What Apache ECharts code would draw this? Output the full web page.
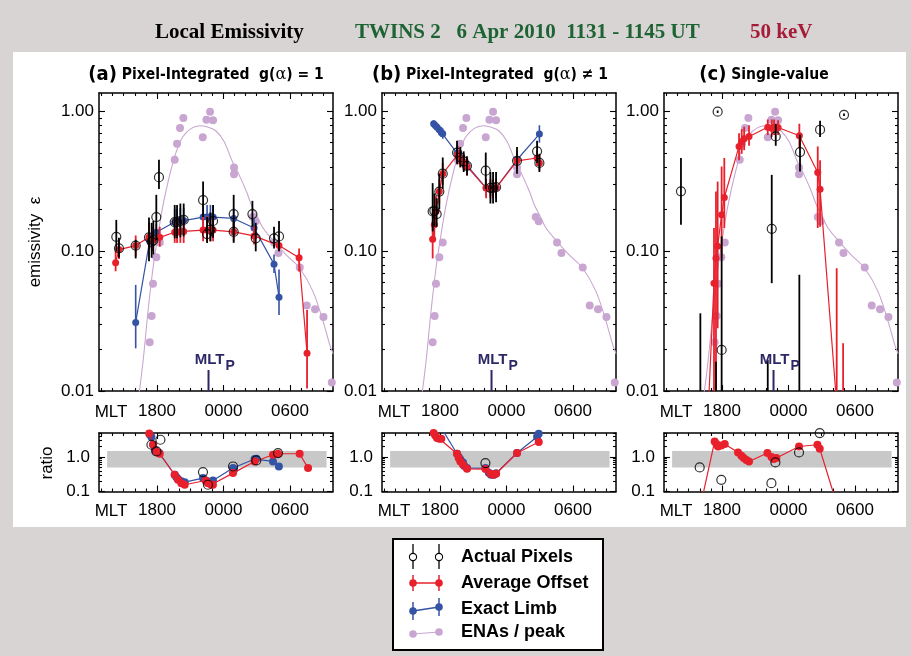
<!DOCTYPE html>
<html><head><meta charset="utf-8">
<script src="https://cdn.jsdelivr.net/npm/echarts@6/dist/echarts.min.js"></script>
<style>
html,body{margin:0;padding:0;background:#d8d4d3;}
#wrap{position:relative;width:911px;height:656px;overflow:hidden;}
#white{position:absolute;left:13px;top:52px;width:893px;height:475px;background:#fff;}
#chart{position:absolute;left:0;top:0;width:911px;height:656px;}
</style></head><body>
<div id="wrap"><div id="white"></div><div id="chart"></div></div>
<script>
// ---------------- tick labels ----------------
const mltMajor = [18, 24, 30];
const mltMajorLabels = ['1800', '0000', '0600'];
const mltMinor = [13,14,15,16,17,19,20,21,22,23,25,26,27,28,29,31,32,33];
const emisMajor = [0.01, 0.1, 1];
const emisMajorLabels = ['0.01', '0.10', '1.00'];
const emisMinor = [0.02,0.03,0.04,0.05,0.06,0.07,0.08,0.09,0.2,0.3,0.4,0.5,0.6,0.7,0.8,0.9];
const ratioMajor = [0.1, 1];
const ratioMajorLabels = ['0.1', '1.0'];
const ratioMinor = [0.2,0.3,0.4,0.5,0.6,0.7,0.8,0.9,2,3,4,5];
const ratioBand = [[13.5, 0.5, 33.3, 1.5]];   // [mltFrom, low, mltTo, high]
const mltP = [22.65];

// ---------------- ENAs / peak (same in every panel) ----------------
const enaDots = [[17.34,0.0223],[17.52,0.0345],[17.64,0.0585],[17.94,0.0908],[18.25,0.1156],[19.60,0.453],[19.81,0.590],
  [20.08,0.764],[20.38,0.902],[22.13,0.655],[22.46,0.877],[22.79,1.00],[23.06,0.867],[24.95,0.399],[24.95,0.357],
  [26.64,0.176],[26.91,0.164],[28.56,0.1156],[28.96,0.0975],[30.88,0.0765],[31.51,0.0409],[32.26,0.0385],[33.02,0.0339],[33.77,0.0115]];
const enaFit = [[16.30,0.0085],[16.74,0.0162],[17.19,0.0371],[17.64,0.0757],[18.09,0.131],[18.55,0.215],[19.15,0.353],[19.75,0.52],
  [20.35,0.665],[21.10,0.76],[21.86,0.794],[22.55,0.776],[23.30,0.731],[24.05,0.612],[24.80,0.44],[25.41,0.353],[26.07,0.268],
  [26.52,0.215],[26.97,0.183],[27.57,0.147],[28.47,0.120],[29.68,0.094],[30.88,0.0757],[32.08,0.0515],[32.99,0.0314],[33.59,0.0214],[33.89,0.0185]];

// ---------------- panel (a): [MLT, value, low, high] ----------------
const aPixels = [[14.33,0.127,0.100,0.168],[14.57,0.105,0.090,0.125],[16.08,0.110,0.089,0.121],[17.28,0.126,0.085,0.175],
  [17.52,0.117,0.090,0.160],[17.67,0.120,0.095,0.165],[17.94,0.176,0.120,0.254],[18.18,0.340,0.280,0.453],[19.60,0.162,0.124,0.215],
  [19.81,0.162,0.124,0.215],[20.11,0.165,0.126,0.220],[20.41,0.168,0.128,0.220],[22.16,0.233,0.176,0.316],[22.52,0.133,0.115,0.176],
  [22.82,0.143,0.118,0.190],[23.06,0.165,0.125,0.215],[24.92,0.185,0.131,0.254],[24.92,0.138,0.115,0.165],[26.61,0.185,0.150,0.230],
  [26.91,0.124,0.100,0.160],[28.56,0.124,0.105,0.150],[29.01,0.128,0.100,0.165]];
const aOffset = [[14.27,0.083,0.072,0.100],[14.57,0.103,0.088,0.120],[16.08,0.110,0.092,0.130],[17.28,0.126,0.105,0.160],
  [17.64,0.120,0.100,0.150],[18.25,0.126,0.108,0.150],[19.60,0.137,0.115,0.170],[19.81,0.137,0.115,0.170],[20.11,0.139,0.115,0.172],
  [20.41,0.139,0.115,0.172],[22.16,0.142,0.118,0.178],[22.52,0.142,0.118,0.178],[22.82,0.142,0.118,0.178],[23.06,0.142,0.118,0.175],
  [24.92,0.138,0.118,0.165],[26.76,0.129,0.112,0.152],[29.01,0.110,0.100,0.121],[30.82,0.090,0.0717,0.105],[31.54,0.0186,0.0104,0.038]];
const aLimb = [[16.08,0.031,0.0202,0.0575],[17.34,0.119,0.105,0.135],[17.94,0.137,0.120,0.158],[19.60,0.162,0.135,0.200],
  [19.81,0.162,0.135,0.200],[20.11,0.165,0.137,0.205],[20.41,0.166,0.138,0.205],[22.16,0.176,0.145,0.215],[22.52,0.176,0.145,0.215],
  [22.82,0.177,0.145,0.215],[23.06,0.176,0.145,0.215],[24.92,0.172,0.145,0.205],[26.76,0.147,0.128,0.170],[28.56,0.081,0.070,0.095],
  [29.01,0.047,0.035,0.074]];
// ratio (a): [MLT, ratio]
const aRatioPixels = [[17.50,2.28],[18.31,3.18],[17.95,1.46],[22.15,0.366],[22.60,0.157],[24.86,0.533],[26.96,0.80],[28.92,1.31]];
const aRatioOffset = [[17.30,4.8],[17.65,2.28],[17.95,1.46],[18.25,1.25],[19.60,0.306],[19.90,0.219],[20.20,0.175],[20.50,0.157],
  [22.39,0.209],[22.60,0.175],[22.90,0.157],[23.05,0.157],[24.86,0.342],[26.81,0.745],[28.47,1.17],[28.92,1.25],[30.87,1.25],[31.63,0.478]];
const aRatioLimb = [[16.08,8],[17.35,4.5],[17.50,3.8],[17.65,2.3],[17.80,1.63],[17.95,1.40],[18.20,1.31],[19.60,0.306],[19.75,0.26],
  [19.90,0.23],[20.20,0.20],[20.50,0.187],[22.15,0.245],[22.39,0.209],[22.60,0.195],[23.05,0.209],[24.86,0.48],[24.95,0.43],
  [26.81,0.875],[26.96,0.89],[28.47,0.745],[29.00,0.533]];

// ---------------- panel (b) ----------------
const bPixels = [[17.34,0.193,0.139,0.308],[17.49,0.195,0.150,0.260],[17.70,0.185,0.150,0.240],[17.94,0.268,0.200,0.360],
  [18.25,0.360,0.280,0.470],[19.54,0.510,0.420,0.620],[19.84,0.470,0.400,0.560],[20.14,0.440,0.370,0.520],[20.44,0.410,0.350,0.480],
  [22.13,0.378,0.280,0.510],[22.55,0.285,0.220,0.370],[22.79,0.285,0.220,0.370],[23.06,0.288,0.225,0.370],[24.95,0.445,0.360,0.560],
  [26.76,0.520,0.430,0.620],[26.97,0.430,0.370,0.500]];
const bOffset = [[17.34,0.122,0.089,0.164],[17.49,0.155,0.120,0.190],[17.64,0.193,0.150,0.250],[17.94,0.268,0.220,0.330],
  [18.25,0.360,0.300,0.430],[19.60,0.492,0.420,0.570],[19.84,0.460,0.400,0.530],[20.14,0.434,0.380,0.500],[20.44,0.405,0.350,0.470],
  [22.16,0.284,0.240,0.330],[22.55,0.282,0.240,0.330],[22.79,0.282,0.240,0.330],[23.06,0.285,0.240,0.330],[24.95,0.445,0.390,0.510],
  [26.76,0.466,0.410,0.530],[26.97,0.430,0.380,0.490]];
const bLimb = [[17.43,0.82,0.77,0.87],[17.58,0.798,0.75,0.85],[17.73,0.773,0.72,0.83],[17.94,0.743,0.69,0.80],[18.12,0.711,0.66,0.77],
  [18.25,0.695,0.64,0.76],[19.54,0.506,0.45,0.57],[19.84,0.470,0.42,0.53],[20.14,0.430,0.38,0.49],[20.44,0.412,0.36,0.47],
  [22.16,0.285,0.25,0.33],[22.55,0.280,0.25,0.32],[22.79,0.280,0.25,0.32],[23.06,0.285,0.25,0.33],[24.95,0.453,0.40,0.52],
  [26.97,0.692,0.60,0.80]];
const bRatioPixels = [[22.10,0.67]];
const bRatioOffset = [[17.43,4.98],[17.58,4.2],[17.73,3.57],[17.94,3.41],[18.12,3.41],[19.54,1.25],[19.69,0.935],[19.84,0.745],
  [20.08,0.597],[20.44,0.457],[22.10,0.447],[22.55,0.327],[22.85,0.306],[23.06,0.327],[24.95,1.31],[26.91,2.73]];
const bRatioLimb = [[17.43,30],[18.25,6],[19.54,1.25],[19.69,1.0],[19.84,0.85],[20.08,0.70],[20.20,0.55],[20.44,0.478],[22.10,0.478],
  [22.40,0.35],[22.60,0.306],[22.85,0.306],[23.06,0.34],[24.95,1.31],[26.76,3.9],[26.91,4.76]];

// ---------------- panel (c) ----------------
const cPixels = [[14.30,0.269,0.155,0.466],[16.05,0.003,0.001,0.036],[17.46,0.003,0.001,0.0162],[17.61,1.00,0.98,1.02],
  [17.97,0.0197,0.005,0.128],[22.13,0.003,0.001,0.0167],[22.49,0.145,0.0592,0.353],[22.85,0.665,0.57,0.82],[24.98,0.003,0.001,0.068],
  [25.04,0.514,0.373,0.684],[26.85,0.743,0.66,0.86],[29.01,0.95,0.93,0.97]];
const cOffset = [[16.10,0.0005,0.0002,0.001],[17.28,0.0592,0.008,0.147],[17.46,0.0893,0.008,0.268],[17.61,0.109,0.0281,0.316],
  [17.97,0.183,0.0893,0.405],[18.21,0.243,0.147,0.466],[19.54,0.564,0.45,0.70],[19.78,0.61,0.50,0.75],[20.00,0.64,0.53,0.78],
  [20.44,0.665,0.57,0.80],[22.13,0.773,0.68,0.88],[22.49,0.76,0.66,0.88],[22.70,0.775,0.68,0.88],[23.06,0.77,0.68,0.87],
  [24.98,0.673,0.55,0.82],[26.64,0.367,0.147,0.564],[26.85,0.279,0.15,0.45],[28.35,0.008,0.001,0.0757],[28.93,0.005,0.001,0.022]];
const cRatioPixels = [[15.99,0.50],[17.94,0.219],[22.46,0.175],[22.82,0.70],[24.95,1.36],[26.82,4.99]];
const cRatioOffset = [[16.14,0.05],[17.34,2.84],[17.50,2.4],[17.64,2.03],[17.94,2.17],[18.25,2.38],[19.45,1.36],[19.75,1.09],
  [19.96,0.935],[20.20,0.82],[20.44,0.745],[22.10,1.31],[22.46,1.0],[22.67,0.875],[22.91,0.935],[24.95,2.03],[26.61,2.28],[26.82,1.74],[28.30,0.05]];

// ---------------- layout / style ----------------
const X_MIN = 12.77, X_MAX = 33.88;
const E_MIN = -2, E_MAX = 0.134;
const R_MIN = -1, R_MAX = 0.699;
const PANEL_LEFT = [99, 382, 664];
const PW = 234;
const MAIN_TOP = 93, MAIN_H = 298, RAT_TOP = 433, RAT_H = 58.5;
const RED = '#e8202c', BLUE = '#3553a5', PURPLE = '#c9a6d1', NAVY = '#2c2868';
const SANS = '"Liberation Sans", Arial, Helvetica, sans-serif';
const NARROW = '"Liberation Sans Narrow", "DejaVu Sans Condensed", "Liberation Sans", sans-serif';
const L = Math.log10;

const grids = [], xAxes = [], yAxes = [], series = [];

function nearestLabel(v, vals, labels) {
  let bi = 0, bd = Infinity;
  vals.forEach((t, i) => { const d = Math.abs(t - v); if (d < bd) { bd = d; bi = i; } });
  return labels[bi];
}

function addGrid(left, top, h, main) {
  const gi = grids.length;
  grids.push({left: left, top: top, width: PW, height: h, show: false});
  const xi = xAxes.length, yi = yAxes.length;
  const lineS = {show: true, onZero: false, lineStyle: {color: '#000', width: 1.5}};
  const noLine = {show: false, onZero: false};
  const tickS = (vals, len) => ({show: true, inside: true, length: len, customValues: vals, lineStyle: {color: '#000', width: 1.1}});
  const xc = {type: 'value', gridIndex: gi, min: X_MIN, max: X_MAX, splitLine: {show: false}};
  xAxes.push(Object.assign({}, xc, {position: 'bottom', axisLine: lineS, axisTick: tickS(mltMajor, 6),
    axisLabel: {show: true, customValues: mltMajor, margin: main ? 12 : 10, fontSize: 17, color: '#000', fontFamily: SANS,
      formatter: v => nearestLabel(v, mltMajor, mltMajorLabels)}}));
  xAxes.push(Object.assign({}, xc, {position: 'bottom', axisLine: noLine, axisTick: tickS(mltMinor, 3), axisLabel: {show: false}}));
  xAxes.push(Object.assign({}, xc, {position: 'top', axisLine: lineS, axisTick: tickS(mltMajor, 6), axisLabel: {show: false}}));
  xAxes.push(Object.assign({}, xc, {position: 'top', axisLine: noLine, axisTick: tickS(mltMinor, 3), axisLabel: {show: false}}));
  const maj = (main ? emisMajor : ratioMajor).map(L);
  const labs = main ? emisMajorLabels : ratioMajorLabels;
  const mnr = (main ? emisMinor : ratioMinor).map(L);
  const yc = {type: 'value', gridIndex: gi, min: main ? E_MIN : R_MIN, max: main ? E_MAX : R_MAX, splitLine: {show: false}};
  yAxes.push(Object.assign({}, yc, {position: 'left', axisLine: lineS, axisTick: tickS(maj, 6),
    axisLabel: {show: true, customValues: maj, margin: main ? 5 : 9, fontSize: 17, color: '#000', fontFamily: SANS,
      formatter: v => nearestLabel(v, maj, labs)}}));
  yAxes.push(Object.assign({}, yc, {position: 'left', axisLine: noLine, axisTick: tickS(mnr, 3), axisLabel: {show: false}}));
  yAxes.push(Object.assign({}, yc, {position: 'right', axisLine: lineS, axisTick: tickS(maj, 6), axisLabel: {show: false}}));
  yAxes.push(Object.assign({}, yc, {position: 'right', axisLine: noLine, axisTick: tickS(mnr, 3), axisLabel: {show: false}}));
  return {xi: xi, yi: yi, yMin: yc.min, yMax: yc.max};
}

function errBars(ax, data, color, width, z) {
  return {type: 'custom', xAxisIndex: ax.xi, yAxisIndex: ax.yi, z: z, silent: true, clip: true,
    encode: {x: 0, y: [1, 2]},
    data: data.map(d => [d[0], L(d[2]), L(d[3])]),
    renderItem: function (params, api) {
      const x = api.value(0);
      const lo = Math.max(api.value(1), ax.yMin), hi = Math.min(api.value(2), ax.yMax);
      if (hi <= lo) return;
      const p1 = api.coord([x, lo]), p2 = api.coord([x, hi]);
      return {type: 'line', shape: {x1: p1[0], y1: p1[1], x2: p2[0], y2: p2[1]},
        style: {stroke: color, lineWidth: width}};
    }};
}
function lineSeries(ax, data, color, z, size) {
  return {type: 'line', xAxisIndex: ax.xi, yAxisIndex: ax.yi, z: z, silent: true, clip: true,
    data: data.map(d => [d[0], L(d[1])]), symbol: 'circle', symbolSize: size || 7, showSymbol: true,
    itemStyle: {color: color}, lineStyle: {color: color, width: 1.2}};
}
function hollow(ax, data, z) {
  return {type: 'scatter', xAxisIndex: ax.xi, yAxisIndex: ax.yi, z: z, silent: true, clip: true,
    data: data.map(d => [d[0], L(d[1])]), symbol: 'circle', symbolSize: 9,
    itemStyle: {color: 'rgba(0,0,0,0)', borderColor: '#000', borderWidth: 1.2}};
}

const panels = [
  {pix: aPixels, off: aOffset, limb: aLimb, rPix: aRatioPixels, rOff: aRatioOffset, rLimb: aRatioLimb},
  {pix: bPixels, off: bOffset, limb: bLimb, rPix: bRatioPixels, rOff: bRatioOffset, rLimb: bRatioLimb},
  {pix: cPixels, off: cOffset, limb: null, rPix: cRatioPixels, rOff: cRatioOffset, rLimb: null}
];

panels.forEach((p, k) => {
  const m = addGrid(PANEL_LEFT[k], MAIN_TOP, MAIN_H, true);
  const r = addGrid(PANEL_LEFT[k], RAT_TOP, RAT_H, false);
  // ENAs / peak
  series.push({type: 'line', xAxisIndex: m.xi, yAxisIndex: m.yi, z: 1, silent: true, clip: true, smooth: 0.35,
    showSymbol: false, data: enaFit.map(d => [d[0], L(d[1])]), lineStyle: {color: PURPLE, width: 1.1}});
  series.push({type: 'scatter', xAxisIndex: m.xi, yAxisIndex: m.yi, z: 1, silent: true, clip: true, symbolSize: 8,
    data: enaDots.map(d => [d[0], L(d[1])]), itemStyle: {color: PURPLE, opacity: 1}});
  if (p.limb) {
    series.push(errBars(m, p.limb, BLUE, 1.6, 3));
    series.push(lineSeries(m, p.limb, BLUE, 3));
  }
  series.push(errBars(m, p.off, RED, 1.8, 4));
  series.push(lineSeries(m, p.off, RED, 4));
  series.push(errBars(m, p.pix, '#000', 1.8, 5));
  series.push(hollow(m, p.pix, 6));
  // MLT_P marker
  series.push({type: 'custom', xAxisIndex: m.xi, yAxisIndex: m.yi, z: 7, silent: true, clip: false,
    data: mltP.map(v => [v, E_MIN]),
    renderItem: function (params, api) {
      const c = api.coord([api.value(0), api.value(1)]);
      return {type: 'group', children: [
        {type: 'line', shape: {x1: c[0], y1: c[1] - 21, x2: c[0], y2: c[1]}, style: {stroke: NAVY, lineWidth: 2}},
        {type: 'text', x: c[0] + 1, y: c[1] - 24, style: {text: 'MLT', fill: NAVY, font: 'bold 15px ' + SANS, align: 'center', verticalAlign: 'bottom'}},
        {type: 'text', x: c[0] + 17, y: c[1] - 18, style: {text: 'P', fill: NAVY, font: 'bold 14px ' + SANS, align: 'left', verticalAlign: 'bottom'}}
      ]};
    }});
  // ratio panel
  series.push({type: 'custom', xAxisIndex: r.xi, yAxisIndex: r.yi, z: 1, silent: true,
    data: ratioBand.map(b => [b[0], L(b[1]), b[2], L(b[3])]),
    renderItem: function (params, api) {
      const a = api.coord([api.value(0), api.value(3)]), b = api.coord([api.value(2), api.value(1)]);
      return {type: 'rect', shape: {x: a[0], y: a[1], width: b[0] - a[0], height: b[1] - a[1]}, style: {fill: '#c8c8c8'}};
    }});
  if (p.rLimb) series.push(lineSeries(r, p.rLimb.map(d => [d[0], d[1]]), BLUE, 3, 8));
  series.push(lineSeries(r, p.rOff.map(d => [d[0], d[1]]), RED, 4, 8));
  series.push(hollow(r, p.rPix, 5));
});

// ---------------- texts & legend ----------------
const graphic = [];
function txt(x, y, text, font, fill, align, extra) {
  graphic.push(Object.assign({type: 'text', x: x, y: y, silent: true,
    style: {text: text, font: font, fill: fill || '#000', align: align || 'left', verticalAlign: 'middle',
      textAlign: align || 'left', textVerticalAlign: 'middle'}}, extra || {}));
}
const SERIF = '"Liberation Serif", "Times New Roman", serif';
txt(155, 33, 'Local Emissivity', 'bold 21px ' + SERIF, '#000');
txt(355, 33, 'TWINS 2   6 Apr 2010  1131 - 1145 UT', 'bold 21px ' + SERIF, '#1e6334');
txt(750, 33, '50 keV', 'bold 21px ' + SERIF, '#a61c38');
const titleRich = {
  p: {font: 'bold 20px ' + NARROW, fill: '#000'},
  t: {font: 'bold 15.5px ' + NARROW, fill: '#000'},
  g: {font: '16px "DejaVu Serif", serif', fill: '#000'}
};
function richTitle(x, text) {
  graphic.push({type: 'text', x: x, y: 75, silent: true,
    style: {text: text, rich: titleRich, align: 'center', verticalAlign: 'middle', textAlign: 'center', textVerticalAlign: 'middle'}});
}
richTitle(206, '{p|(a)}{t| Pixel-Integrated  g(}{g|α}{t|) = 1}');
richTitle(490, '{p|(b)}{t| Pixel-Integrated  g(}{g|α}{t|) ≠ 1}');
richTitle(764, '{p|(c)}{t| Single-value}');
// MLT prefixes under axes
PANEL_LEFT.forEach(l => {
  txt(l + 12, 412, 'MLT', '17px ' + SANS, '#000', 'center');
  txt(l + 12, 511, 'MLT', '17px ' + SANS, '#000', 'center');
});
txt(35, 242, 'emissivity  ε', '17px ' + SANS, '#000', 'center', {rotation: Math.PI / 2});
txt(47, 463, 'ratio', '17px ' + SANS, '#000', 'center', {rotation: Math.PI / 2});

// legend box
graphic.push({type: 'rect', shape: {x: 393, y: 539, width: 210, height: 111}, style: {fill: '#fff', stroke: '#000', lineWidth: 2}, silent: true});
function lg(el) { graphic.push(Object.assign({silent: true}, el)); }
// Actual pixels
[413, 439].forEach(x => {
  lg({type: 'line', shape: {x1: x, y1: 544, x2: x, y2: 569}, style: {stroke: '#000', lineWidth: 1.3}});
  lg({type: 'circle', shape: {cx: x, cy: 557, r: 3.6}, style: {fill: '#fff', stroke: '#000', lineWidth: 1.1}});
});
// Average offset
lg({type: 'line', shape: {x1: 413, y1: 583, x2: 439, y2: 583}, style: {stroke: RED, lineWidth: 1.5}});
[413, 439].forEach(x => {
  lg({type: 'line', shape: {x1: x, y1: 575, x2: x, y2: 591}, style: {stroke: RED, lineWidth: 1.5}});
  lg({type: 'circle', shape: {cx: x, cy: 583, r: 3.8}, style: {fill: RED}});
});
// Exact limb
lg({type: 'line', shape: {x1: 413, y1: 611, x2: 439, y2: 607}, style: {stroke: BLUE, lineWidth: 1.5}});
[[413, 611], [439, 607]].forEach(q => {
  lg({type: 'line', shape: {x1: q[0], y1: q[1] - 9, x2: q[0], y2: q[1] + 9}, style: {stroke: BLUE, lineWidth: 1.5}});
  lg({type: 'circle', shape: {cx: q[0], cy: q[1], r: 3.8}, style: {fill: BLUE}});
});
// ENAs / peak
lg({type: 'line', shape: {x1: 413, y1: 634, x2: 439, y2: 632}, style: {stroke: PURPLE, lineWidth: 1.2}});
[[413, 634], [439, 632]].forEach(q => lg({type: 'circle', shape: {cx: q[0], cy: q[1], r: 3.8}, style: {fill: PURPLE}}));
txt(461, 557, 'Actual Pixels', 'bold 18px ' + SANS);
txt(461, 583, 'Average Offset', 'bold 18px ' + SANS);
txt(461, 609, 'Exact Limb', 'bold 18px ' + SANS);
txt(461, 632, 'ENAs / peak', 'bold 18px ' + SANS);

const chart = echarts.init(document.getElementById('chart'), null, {renderer: 'canvas'});
chart.setOption({
  backgroundColor: 'transparent',
  animation: false,
  grid: grids, xAxis: xAxes, yAxis: yAxes, series: series, graphic: graphic
});
</script></body></html>
